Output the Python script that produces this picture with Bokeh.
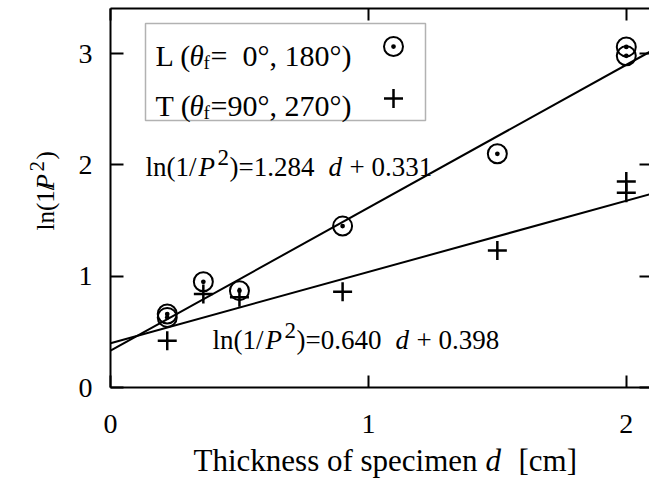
import numpy as np
from bokeh.plotting import figure
from bokeh.models import Range1d, LinearAxis, FixedTicker, Label, BoxAnnotation, CustomJSTickFormatter
from bokeh.embed import file_html
from bokeh.resources import INLINE

# Measured attenuation ln(1/P^2) versus specimen thickness d [cm]
d_L = [0.22, 0.22, 0.36, 0.50, 0.90, 1.50, 2.00, 2.00]
lnP_L = [0.63, 0.66, 0.95, 0.87, 1.45, 2.10, 2.98, 3.06]
d_T = [0.22, 0.36, 0.50, 0.90, 1.50, 2.00, 2.00]
lnP_T = [0.42, 0.84, 0.81, 0.86, 1.23, 1.75, 1.85]

# Linear fits: ln(1/P^2) = slope * d + intercept
fit_L = (1.284, 0.331)
fit_T = (0.640, 0.398)

x_ticks = [0, 1, 2]
y_ticks = [0, 1, 2, 3]

W, H = 649, 479
LEFT, TOP, BOTTOM = 110, 8, 92          # pixel margins around the data box
X_END, Y_END = 2.09, 3.405              # data extent of the box
FONT = "Liberation Serif"

PX_X = (W - LEFT) / X_END               # pixels per cm
PX_Y = (H - TOP - BOTTOM) / Y_END       # pixels per unit of ln(1/P^2)

# the frame covers the whole canvas; axes are pinned to the data box edges
p = figure(width=W, height=H,
           x_range=Range1d(-LEFT / PX_X, X_END),
           y_range=Range1d(-BOTTOM / PX_Y, Y_END + TOP / PX_Y),
           x_axis_location=None, y_axis_location=None,
           output_backend="svg", toolbar_location=None,
           min_border=0)
p.grid.visible = False
p.outline_line_color = None
p.background_fill_color = "white"
p.border_fill_color = "white"


def make_axis(ticks, loc, bounds, tick_in, standoff, show_labels=True, line=True):
    ax = LinearAxis(fixed_location=loc, bounds=bounds)
    ax.ticker = FixedTicker(ticks=ticks)
    ax.major_tick_in = tick_in
    ax.major_tick_out = 0
    ax.minor_tick_line_color = None
    ax.major_tick_line_width = 2
    ax.major_tick_line_color = "black"
    ax.axis_line_width = 2
    ax.axis_line_color = "black" if line else None
    ax.major_label_standoff = standoff
    ax.major_label_text_font = FONT
    ax.major_label_text_font_size = "28px"
    ax.major_label_text_color = "black"
    if not show_labels:
        ax.formatter = CustomJSTickFormatter(code="return ''")
        ax.major_label_text_font_size = "0px"
    return ax


p.add_layout(make_axis(x_ticks, 0, (0, X_END), 12, 27), "below")
p.add_layout(make_axis(y_ticks, 0, (0, Y_END), 13, 18), "left")
p.add_layout(make_axis(x_ticks, Y_END, (0, X_END), 12, 0, show_labels=False), "above")
p.add_layout(make_axis(y_ticks, X_END, (0, Y_END), 10, 0, show_labels=False, line=False), "right")

# fitted lines
xs = np.array([0.0, X_END])
p.line(xs, fit_L[0] * xs + fit_L[1], line_color="black", line_width=2)
p.line(xs, fit_T[0] * xs + fit_T[1], line_color="black", line_width=2)

# data points
p.scatter(d_L, lnP_L, marker="circle_dot", size=19, fill_color=None,
          line_color="black", line_width=2)
p.scatter(d_T, lnP_T, marker="cross", size=19, line_color="black", line_width=2.5)


def dx(px):
    return (px - LEFT) / PX_X


def dy(py):
    return (H - BOTTOM - py) / PX_Y


def txt(s, px, py, size=28, style="normal", angle=0.0):
    p.add_layout(Label(x=dx(px), y=dy(py), text=s, text_font=FONT,
                       text_font_size=f"{size}px", text_font_style=style,
                       text_color="black", text_baseline="alphabetic",
                       text_align="left", angle=angle))


# legend
p.add_layout(BoxAnnotation(left=dx(145), right=dx(425), top=dy(23), bottom=dy(120),
                           fill_color=None, line_color="black", line_width=1.5))
for head, tail, base in (("L (", "=\u20070°, 180°)", 55), ("T (", "=90°, 270°)", 105)):
    txt(head, 155, base, size=30)
    txt("θ", 189, base, size=29, style="italic")
    txt("f", 203, base + 7, size=19)
    txt(tail, 210, base, size=30)
p.scatter([dx(393)], [dy(46)], marker="circle_dot", size=19, fill_color=None,
          line_color="black", line_width=2)
p.scatter([dx(393)], [dy(98)], marker="cross", size=19, line_color="black", line_width=2.5)


def equation(fit, x0, base):
    txt("ln(1/", x0, base, size=27)
    txt("P", x0 + 53, base, size=27, style="italic")
    txt("2", x0 + 72, base - 9, size=23)
    txt(f")={fit[0]:.3f}", x0 + 84, base, size=27)
    txt("d", x0 + 183, base, size=27, style="italic")
    txt(f"+ {fit[1]:.3f}", x0 + 204, base, size=27)


equation(fit_L, 145, 166)
equation(fit_T, 212, 339)

# axis titles
txt("Thickness of specimen", 193, 460, size=31)
txt("d", 485, 460, size=31, style="italic")
txt("[cm]", 518, 460, size=31)

R = np.pi / 2
txt("ln(1/", 45, 230, size=25, angle=R)
txt("P", 45, 189, size=25, style="italic", angle=R)
txt("2", 36, 171, size=21, angle=R)
txt(")", 45, 159, size=25, angle=R)

open("out.html", "w").write(file_html(p, INLINE))
